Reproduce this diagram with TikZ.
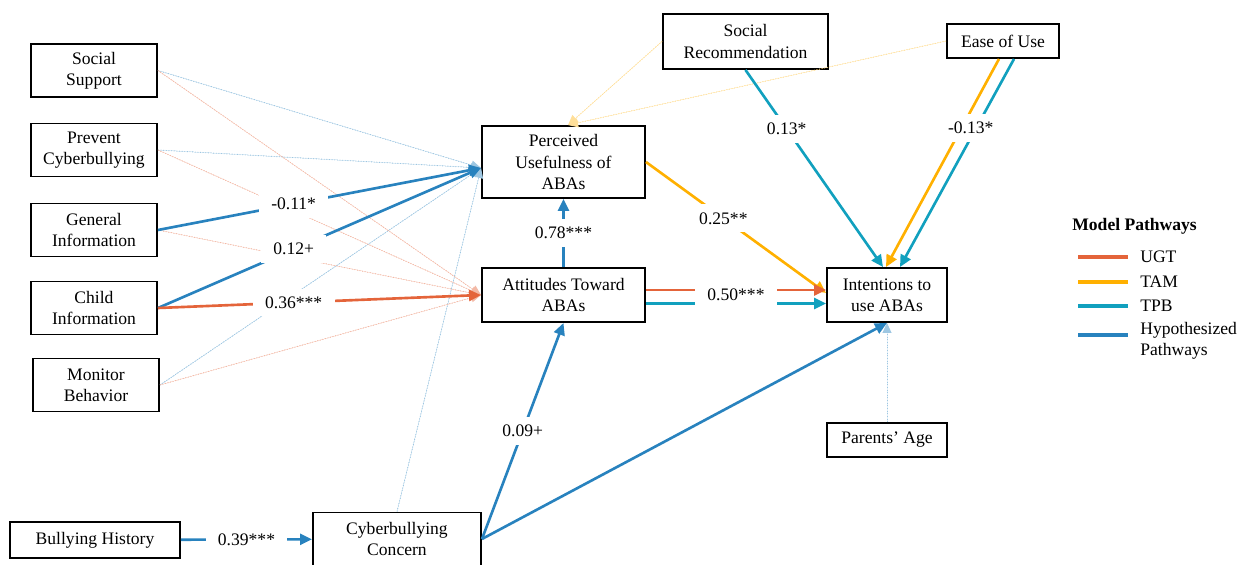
\documentclass[tikz,border=0pt]{standalone}
\usepackage{fontspec}
\setmainfont{Liberation Serif}
\usetikzlibrary{shapes,arrows.meta,positioning,calc}

\definecolor{ugtcol}{RGB}{228,100,58}
\definecolor{tamcol}{RGB}{255,176,0}
\definecolor{tpbcol}{RGB}{17,160,190}
\definecolor{hypcol}{RGB}{40,130,190}

\begin{document}
\begin{tikzpicture}[
  boxnode/.style={rectangle, draw, line width=1.1pt, align=center, inner sep=2pt, minimum width=2.52cm, minimum height=1.06cm},
  tip/.style={-{Triangle[length=2.4mm,width=2.2mm]}},
  ugtline/.style={tip, draw=ugtcol, fill=ugtcol, line width=1.5pt},
  tamline/.style={tip, draw=tamcol, fill=tamcol, line width=1.5pt},
  tpbline/.style={tip, draw=tpbcol, fill=tpbcol, line width=1.5pt},
  hypline/.style={tip, draw=hypcol, fill=hypcol, line width=1.5pt},
  hypdot/.style={-{Triangle[length=2mm,width=1.8mm]}, draw=hypcol!45, fill=hypcol, line width=0.5pt, densely dotted},
  ugtdot/.style={-{Triangle[length=2mm,width=1.8mm]}, draw=ugtcol!45, fill=ugtcol, line width=0.5pt, densely dotted},
  tamdot/.style={-{Triangle[length=2mm,width=1.8mm]}, draw=tamcol!40, fill=tamcol, line width=0.5pt, densely dotted},
  lbl/.style={fill=white, inner xsep=7pt, inner ysep=4.5pt},
  legline/.style={line width=2pt},
  legtext/.style={anchor=west, inner sep=0pt, align=left}
]
\useasboundingbox (0,0) rectangle (24.96,11.28);

% predictors
\node[boxnode] (supp) at (1.88,9.87) {Social\\Support};
\node[boxnode] (prev) at (1.88,8.28) {Prevent\\Cyberbullying};
\node[boxnode] (gen) at (1.88,6.68) {General\\Information};
\node[boxnode] (child) at (1.88,5.12) {Child\\Information};
\node[boxnode] (monit) at (1.92,3.58) {Monitor\\Behavior};
\node[boxnode, minimum width=3.4cm, minimum height=0.72cm] (bully) at (1.90,0.48) {Bullying History};
\node[boxnode, minimum width=3.36cm] (conc) at (7.94,0.50) {Cyberbullying\\Concern};

% mediators and outcome
\node[boxnode, minimum width=3.26cm, minimum height=1.44cm] (pu) at (11.27,8.04) {Perceived\\Usefulness of\\ABAs};
\node[boxnode, minimum width=3.26cm, minimum height=1.08cm] (att) at (11.27,5.38) {Attitudes Toward\\ABAs};
\node[boxnode, minimum width=3.3cm, minimum height=1.1cm] (srec) at (14.91,10.45) {Social\\Recommendation};
\node[boxnode, minimum width=2.24cm, minimum height=0.68cm] (ease) at (20.06,10.46) {Ease of Use};
\node[boxnode, minimum width=2.4cm, minimum height=1.08cm] (int) at (17.74,5.38) {Intentions to\\use ABAs};
\node[boxnode, minimum width=2.4cm, minimum height=0.68cm] (age) at (17.74,2.48) {Parents' Age};

\coordinate (puin) at ([yshift=-1.2mm]pu.west);
\coordinate (putop) at ([xshift=0.9mm]pu.north);

% non-significant paths
\draw[hypdot] (supp.east) -- (puin);
\draw[hypdot] (prev.east) -- (puin);
\draw[hypdot] (monit.east) -- (puin);
\draw[hypdot] (conc.north) -- (puin);
\draw[ugtdot] (supp.east) -- (att.west);
\draw[ugtdot] (prev.east) -- (att.west);
\draw[ugtdot] (gen.east) -- (att.west);
\draw[ugtdot] (monit.east) -- (att.west);
\draw[tamdot] (srec.west) -- (putop);
\draw[tamdot] (ease.west) -- (putop);
\draw[hypdot] (age.north) -- (int.south);

% significant paths
\draw[hypline] (gen.east) -- node[lbl, pos=0.42] {-0.11*} (puin);
\draw[hypline] (child.east) -- node[lbl, pos=0.42] {0.12+} (puin);
\draw[ugtline] (child.east) -- node[lbl, pos=0.42] {0.36***} (att.west);
\draw[hypline] (att.north) -- node[lbl] {0.78***} (pu.south);
\draw[hypline] (conc.east) -- node[lbl, pos=0.5] {0.09+} (att.south);
\draw[hypline] (conc.east) -- (int.south);
\draw[hypline] (bully) -- node[lbl] {0.39***} (conc);
\draw[tamline] (pu.east) -- node[lbl, pos=0.43] {0.25**} ([yshift=0.4mm]int.west);
\draw[ugtline] ([yshift=1mm]att.east) -- ([yshift=1mm]int.west);
\draw[tpbline] ([yshift=-1.7mm]att.east) -- ([yshift=-1.7mm]int.west);
\node[lbl] at ($(att.east)!0.5!(int.west)$) {0.50***};
\draw[tpbline] (srec.south) -- node[lbl, pos=0.3] {0.13*} ([xshift=-0.8mm]int.north);
\draw[tamline] ([xshift=-0.8mm]ease.south) -- ([xshift=-0.2mm]int.north);
\draw[tpbline] ([xshift=2.2mm]ease.south) -- ([xshift=2.6mm]int.north);
\node[lbl, xshift=1.2mm] at ($(ease.south)!0.33!(int.north)$) {-0.13*};

% legend
\node[legtext] (legtitle) at (21.44,6.76) {\textbf{Model Pathways}};
\node[legtext] (lugt) at (22.8,6.14) {UGT};
\node[legtext] (ltam) at (22.8,5.64) {TAM};
\node[legtext] (ltpb) at (22.8,5.16) {TPB};
\node[legtext] (lhyp) at (22.8,4.46) {Hypothesized\\Pathways};
\draw[legline, ugtcol] ([xshift=-12.4mm]lugt.west) -- ([xshift=-2.4mm]lugt.west);
\draw[legline, tamcol] ([xshift=-12.4mm]ltam.west) -- ([xshift=-2.4mm]ltam.west);
\draw[legline, tpbcol] ([xshift=-12.4mm]ltpb.west) -- ([xshift=-2.4mm]ltpb.west);
\draw[legline, hypcol] ([xshift=-12.4mm,yshift=1.2mm]lhyp.west) -- ([xshift=-2.4mm,yshift=1.2mm]lhyp.west);
\end{tikzpicture}
\end{document}
